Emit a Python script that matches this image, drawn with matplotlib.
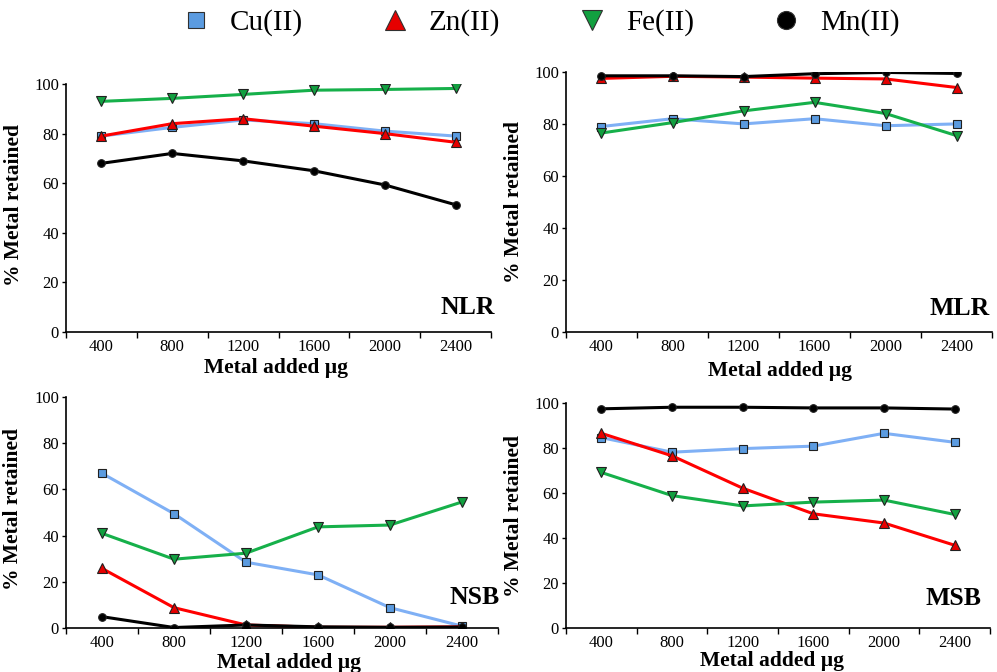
import matplotlib.pyplot as plt
from matplotlib.lines import Line2D

plt.rcParams['font.family'] = ['Liberation Serif', 'DejaVu Serif']

doses = ['400', '800', '1200', '1600', '2000', '2400']
metals = ['Cu(II)', 'Zn(II)', 'Fe(II)', 'Mn(II)']

# % metal retained, one list per metal, per panel
nlr_cu = [79, 82.5, 85.5, 84, 81, 79]
nlr_zn = [79, 84, 86, 83, 80, 76.5]
nlr_fe = [93, 94.2, 95.8, 97.5, 97.8, 98.2]
nlr_mn = [68, 72, 69, 65, 59.3, 51.3]

mlr_cu = [79, 82, 80, 82, 79.3, 80]
mlr_zn = [97.5, 98.3, 98, 97.6, 97.3, 94]
mlr_fe = [76.5, 80.5, 85, 88.3, 84, 75.5]
mlr_mn = [98.5, 98.5, 98.2, 99.3, 99.8, 99.4]

nsb_cu = [67, 49.5, 28.5, 23, 8.8, 0.8]
nsb_zn = [25.8, 8.8, 1.3, 0.3, 0.3, 0.5]
nsb_fe = [41, 29.8, 32.4, 43.8, 44.6, 54.6]
nsb_mn = [4.9, 0.2, 1.3, 0.5, 0.3, 0.4]

msb_cu = [84.7, 78.2, 79.8, 80.9, 86.6, 82.6]
msb_zn = [86.6, 76.6, 62.2, 50.8, 46.7, 36.8]
msb_fe = [69.2, 58.9, 54.3, 56, 56.9, 50.5]
msb_mn = [97.5, 98.2, 98.2, 97.9, 97.9, 97.4]

styles = {
    'Cu(II)': dict(color='#7fb0f5', marker='s', mfc='#5b9be0', ms=5.5, lms=12),
    'Zn(II)': dict(color='#ff0000', marker='^', mfc='#e60000', ms=6.5, lms=14),
    'Fe(II)': dict(color='#16b04a', marker='v', mfc='#12a040', ms=6.5, lms=14),
    'Mn(II)': dict(color='#000000', marker='o', mfc='#000000', ms=5.5, lms=13),
}

panels = [
    ('NLR', [nlr_cu, nlr_zn, nlr_fe, nlr_mn], [0.0662, 0.506, 0.4263, 0.369],
     (0.494, -0.104), (-0.099, 0.512), (1.01, 0.097)),
    ('MLR', [mlr_cu, mlr_zn, mlr_fe, mlr_mn], [0.5677, 0.506, 0.4273, 0.387],
     (0.502, -0.113), (-0.099, 0.5), (0.995, 0.092)),
    ('NSB', [nsb_cu, nsb_zn, nsb_fe, nsb_mn], [0.0662, 0.0655, 0.4333, 0.3435],
     (0.516, -0.11), (-0.099, 0.515), (1.005, 0.13)),
    ('MSB', [msb_cu, msb_zn, msb_fe, msb_mn], [0.5677, 0.0655, 0.4253, 0.3345],
     (0.486, -0.104), (-0.099, 0.498), (0.98, 0.133)),
]

fig = plt.figure(figsize=(9.97, 6.72), dpi=100)

for name, series, rect, xl, yl, tl in panels:
    ax = fig.add_axes(rect)
    x = range(len(doses))
    for metal, vals in zip(metals, series):
        st = styles[metal]
        ax.plot(x, vals, color=st['color'], lw=2.2, marker=st['marker'],
                ms=st['ms'], mfc=st['mfc'], mec='#202020', mew=0.8)
    ax.set_xlim(-0.5, len(doses) - 0.5)
    ax.set_ylim(0, 100)
    ax.set_yticks(range(0, 101, 20))
    ax.set_xticks(list(x))
    ax.set_xticklabels(doses)
    ax.set_xticks([i - 0.5 for i in range(len(doses) + 1)], minor=True)
    ax.tick_params(axis='x', which='major', length=0, pad=5, labelsize=12)
    ax.tick_params(axis='x', which='minor', length=4, width=1)
    ax.tick_params(axis='y', length=3, width=1, pad=2, labelsize=12)
    for s in ['top', 'right']:
        ax.spines[s].set_visible(False)
    for s in ['left', 'bottom']:
        ax.spines[s].set_linewidth(1.2)
    ax.set_xlabel('Metal added µg', fontsize=15.5, fontweight='bold')
    ax.set_ylabel('% Metal retained', fontsize=15.5, fontweight='bold')
    ax.xaxis.set_label_coords(*xl)
    ax.yaxis.set_label_coords(*yl)
    ax.text(tl[0], tl[1], name, transform=ax.transAxes, ha='right', va='center',
            fontsize=18.5, fontweight='bold')

handles = [Line2D([], [], ls='none', marker=styles[m]['marker'],
                  mfc=styles[m]['mfc'], mec='#303030', mew=0.8, ms=styles[m]['lms'])
           for m in metals]
fig.legend(handles, metals, loc='center', bbox_to_anchor=(0.542, 0.966),
           ncol=4, frameon=False, fontsize=21, handlelength=1.0,
           handletextpad=0.67, columnspacing=2.65)

fig.savefig('out.png', dpi=100)
